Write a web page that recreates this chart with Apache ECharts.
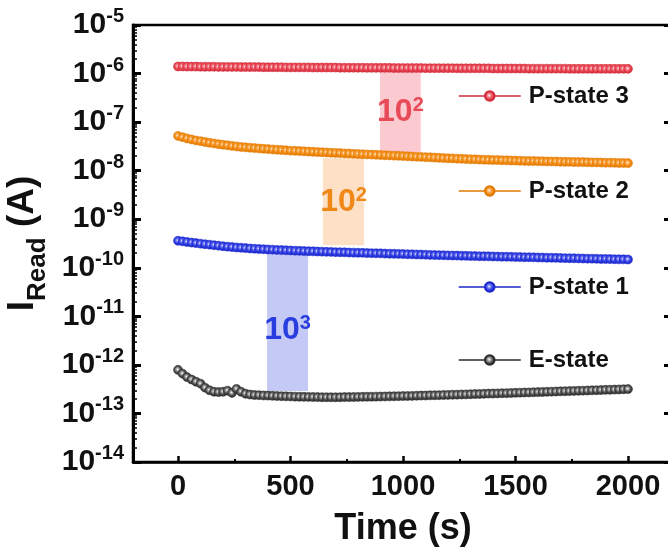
<!DOCTYPE html>
<html>
<head>
<meta charset="utf-8">
<script src="https://cdn.jsdelivr.net/npm/echarts@6.0.0/dist/echarts.min.js"></script>
<style>html,body{margin:0;padding:0;background:#fff}#chart{width:668px;height:556px;background:#fff}</style>
</head>
<body>
<div id="chart"></div>
<script>
// time (s), one reading every 20 s
var times = [
  0,20,40,60,80,100,120,140,160,180,
  200,220,240,260,280,300,320,340,360,380,
  400,420,440,460,480,500,520,540,560,580,
  600,620,640,660,680,700,720,740,760,780,
  800,820,840,860,880,900,920,940,960,980,
  1000,1020,1040,1060,1080,1100,1120,1140,1160,1180,
  1200,1220,1240,1260,1280,1300,1320,1340,1360,1380,
  1400,1420,1440,1460,1480,1500,1520,1540,1560,1580,
  1600,1620,1640,1660,1680,1700,1720,1740,1760,1780,
  1800,1820,1840,1860,1880,1900,1920,1940,1960,1980,
  2000
];

// read current, x1e-6 A
var pState3 = [
  1.40,1.40,1.39,1.39,1.39,1.38,1.38,1.38,1.38,1.37,
  1.37,1.37,1.37,1.37,1.36,1.36,1.36,1.36,1.36,1.35,
  1.35,1.35,1.35,1.35,1.34,1.34,1.34,1.34,1.34,1.34,
  1.33,1.33,1.33,1.33,1.33,1.33,1.32,1.32,1.32,1.32,
  1.32,1.32,1.31,1.31,1.31,1.31,1.31,1.31,1.30,1.30,
  1.30,1.30,1.30,1.30,1.30,1.29,1.29,1.29,1.29,1.29,
  1.29,1.29,1.28,1.28,1.28,1.28,1.28,1.28,1.28,1.28,
  1.27,1.27,1.27,1.27,1.27,1.27,1.27,1.27,1.26,1.26,
  1.26,1.26,1.26,1.26,1.26,1.26,1.26,1.25,1.25,1.25,
  1.25,1.25,1.25,1.25,1.25,1.25,1.25,1.25,1.25,1.25,
  1.25
];
// x1e-8 A
var pState2 = [
  5.20,4.90,4.62,4.40,4.20,4.05,3.90,3.76,3.64,3.52,
  3.42,3.33,3.24,3.16,3.08,3.02,2.97,2.92,2.87,2.82,
  2.78,2.74,2.70,2.66,2.62,2.58,2.56,2.53,2.50,2.47,
  2.44,2.42,2.39,2.37,2.34,2.32,2.30,2.27,2.25,2.22,
  2.20,2.18,2.16,2.14,2.12,2.10,2.08,2.06,2.04,2.02,
  2.00,1.98,1.96,1.94,1.92,1.90,1.88,1.86,1.84,1.82,
  1.80,1.79,1.77,1.75,1.74,1.72,1.71,1.69,1.68,1.67,
  1.66,1.65,1.64,1.63,1.62,1.61,1.60,1.59,1.58,1.58,
  1.57,1.56,1.55,1.55,1.54,1.53,1.52,1.52,1.51,1.50,
  1.50,1.49,1.48,1.48,1.47,1.46,1.46,1.45,1.44,1.44,
  1.43
];
// x1e-10 A
var pState1 = [
  3.60,3.50,3.40,3.30,3.22,3.14,3.06,2.99,2.92,2.85,
  2.78,2.72,2.67,2.62,2.58,2.54,2.50,2.47,2.44,2.41,
  2.38,2.36,2.33,2.31,2.29,2.27,2.25,2.23,2.21,2.19,
  2.18,2.16,2.15,2.13,2.12,2.10,2.09,2.08,2.06,2.05,
  2.04,2.03,2.01,2.00,1.99,1.98,1.96,1.95,1.94,1.93,
  1.92,1.90,1.89,1.88,1.87,1.86,1.84,1.83,1.82,1.81,
  1.80,1.79,1.78,1.77,1.76,1.75,1.74,1.73,1.73,1.72,
  1.71,1.70,1.69,1.69,1.68,1.67,1.66,1.65,1.65,1.64,
  1.63,1.62,1.61,1.61,1.60,1.59,1.58,1.57,1.57,1.56,
  1.55,1.54,1.54,1.53,1.52,1.52,1.51,1.50,1.49,1.49,
  1.48
];
// x1e-13 A
var eState = [
  7.90,6.60,5.60,5.00,4.50,4.10,3.40,3.00,2.80,2.75,
  2.80,2.95,2.65,3.20,2.80,2.55,2.45,2.40,2.38,2.35,
  2.33,2.31,2.29,2.27,2.25,2.24,2.22,2.21,2.20,2.19,
  2.18,2.17,2.16,2.16,2.15,2.15,2.16,2.17,2.17,2.18,
  2.19,2.20,2.21,2.21,2.22,2.23,2.24,2.25,2.26,2.27,
  2.28,2.29,2.30,2.32,2.33,2.34,2.36,2.37,2.38,2.40,
  2.41,2.43,2.44,2.46,2.47,2.49,2.51,2.52,2.54,2.56,
  2.57,2.59,2.61,2.62,2.64,2.66,2.68,2.70,2.71,2.73,
  2.75,2.77,2.79,2.81,2.83,2.85,2.87,2.89,2.91,2.93,
  2.95,2.97,2.99,3.01,3.03,3.06,3.08,3.10,3.12,3.15,
  3.17
];

// shaded gaps between states (one per upper state)
var bandStart = [898, 644, 396];
var bandEnd = [1079, 827, 578];
var bandTop = [1.1e-6, 1.8e-8, 2.0e-10];
var bandBottom = [2.4e-8, 2.9e-10, 2.9e-13];
var bandPower = ['2', '2', '3'];

var font = 'Liberation Sans, Arial, sans-serif';

var colors = {
  p3: {main: '#e8414e', light: '#f58a94', dark: '#d02a3a', band: '#fbcad0', text: '#e84a58'},
  p2: {main: '#f28a12', light: '#fbb25c', dark: '#e07800', band: '#fde0c6', text: '#f08818'},
  p1: {main: '#2a38e0', light: '#7c85f5', dark: '#1c28c8', band: '#c4c9f6', text: '#2a3ee0'},
  e:  {main: '#4a4a4a', light: '#a8a8a8', dark: '#2a2a2a'}
};

function beads(name, vals, unit, c, band) {
  var s = {
    name: name,
    type: 'line',
    data: times.map(function (t, i) { return [t, vals[i] * unit]; }),
    symbol: 'circle',
    symbolSize: 9,
    showAllSymbol: true,
    lineStyle: {color: c.dark, width: 1.5},
    itemStyle: {
      color: {type: 'radial', x: 0.45, y: 0.45, r: 0.55, colorStops: [
        {offset: 0, color: '#ffffff'}, {offset: 0.25, color: c.light}, {offset: 0.6, color: c.main}, {offset: 1, color: c.dark}]},
      borderColor: c.dark, borderWidth: 0.5
    },
    emphasis: {disabled: true}
  };
  if (band != null) {
    s.markArea = {
      silent: true,
      itemStyle: {color: c.band},
      label: {
        show: true, position: 'inside',
        offset: band === 2 ? [0, 8] : [0, 0],
        formatter: '{b|10}{s|' + bandPower[band] + '}',
        rich: {
          b: {fontSize: 32, lineHeight: 32, fontWeight: 'bold', fontFamily: font, color: c.text},
          s: {fontSize: 20, lineHeight: 20, fontWeight: 'bold', fontFamily: font, color: c.text, padding: [0, 0, 13, 0]}
        }
      },
      data: [[{xAxis: bandStart[band], yAxis: bandTop[band]}, {xAxis: bandEnd[band], yAxis: bandBottom[band]}]]
    };
  }
  return s;
}

var names = ['P-state 3', 'P-state 2', 'P-state 1', 'E-state'];
var legendTop = [84, 179, 275, 348];

var chart = echarts.init(document.getElementById('chart'));
chart.setOption({
  animation: false,
  grid: {left: 133, top: 25, width: 540, height: 437, outerBoundsMode: 'none',
    show: true, borderColor: '#000', borderWidth: 2.5},
  legend: names.map(function (n, i) {
    return {
      data: [n], left: 458, top: legendTop[i], padding: 0, selectedMode: false,
      itemWidth: 62, itemHeight: 12, lineStyle: {width: 1.5},
      textStyle: {fontSize: 24, fontWeight: 'bold', fontFamily: font, color: '#111', padding: [0, 0, 0, 3]}
    };
  }),
  xAxis: {
    type: 'value', min: -200, max: 2200, splitNumber: 5,
    name: 'Time (s)', nameLocation: 'middle', nameGap: 49,
    nameTextStyle: {fontSize: 36, fontWeight: 'bold', fontFamily: font, color: '#111'},
    axisLine: {show: true, onZero: false, lineStyle: {color: '#000', width: 2.5}},
    axisTick: {show: true, inside: true, length: 6, lineStyle: {color: '#000', width: 2.5}},
    minorTick: {show: true, splitNumber: 2, length: 3, lineStyle: {color: '#000', width: 2}},
    axisLabel: {
      margin: 10, fontSize: 29, fontWeight: 'bold', fontFamily: font, color: '#111',
      showMinLabel: false, showMaxLabel: false,
      formatter: function (v) { return v < 0 || v > 2000 ? '' : String(v); }
    },
    splitLine: {show: false}
  },
  yAxis: [{
    type: 'log', logBase: 10, min: 1e-14, max: 1e-5, splitNumber: 9,
    name: '{i|I}{sub|Read}{i| (A)}', nameLocation: 'middle', nameGap: 78, nameRotate: 90,
    nameTextStyle: {
      rich: {
        i: {fontSize: 37, lineHeight: 37, fontWeight: 'bold', fontFamily: font, color: '#111'},
        sub: {fontSize: 26, lineHeight: 26, fontWeight: 'bold', fontFamily: font, color: '#111', padding: [30, 0, 0, 0]}
      }
    },
    axisLine: {show: true, onZero: false, lineStyle: {color: '#000', width: 3}},
    axisTick: {show: true, inside: true, length: 8, lineStyle: {color: '#000', width: 3}},
    minorTick: {show: true, splitNumber: 9, length: 4, lineStyle: {color: '#000', width: 1.5}},
    axisLabel: {
      margin: 9, color: '#111',
      formatter: function (v) { return '{b|10}{s|' + Math.round(Math.log10(v)) + '}'; },
      rich: {
        b: {fontSize: 30, lineHeight: 30, fontWeight: 'bold', fontFamily: font, color: '#111'},
        s: {fontSize: 20, lineHeight: 20, fontWeight: 'bold', fontFamily: font, color: '#111', padding: [0, 0, 17, 0]}
      }
    },
    splitLine: {show: false}
  }, {
    type: 'log', logBase: 10, min: 1e-14, max: 1e-5, splitNumber: 9, position: 'right',
    axisLine: {show: true, onZero: false, lineStyle: {color: '#000', width: 3}},
    axisTick: {show: true, inside: true, length: 9, lineStyle: {color: '#000', width: 3}},
    axisLabel: {show: false}, splitLine: {show: false}
  }],
  series: [
    beads('P-state 3', pState3, 1e-6, colors.p3, 0),
    beads('P-state 2', pState2, 1e-8, colors.p2, 1),
    beads('P-state 1', pState1, 1e-10, colors.p1, 2),
    beads('E-state', eState, 1e-13, colors.e, null)
  ]
});
</script>
</body>
</html>
